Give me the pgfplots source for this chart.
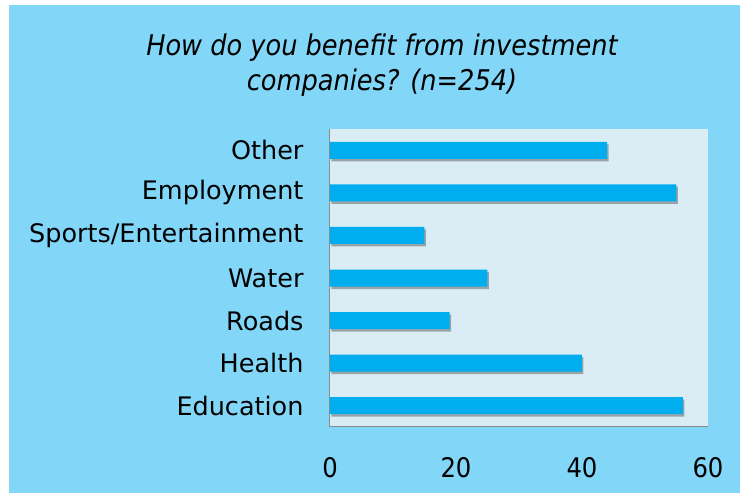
\documentclass[border=0pt]{standalone}
\usepackage{fontspec}
\setmainfont{DejaVu Sans}
\newfontfamily\cond{DejaVu Sans Condensed}
\usepackage{pgfplots}
\pgfplotsset{compat=1.18}
\usetikzlibrary{shadows}
\definecolor{bgblue}{RGB}{130,214,248}
\definecolor{plotbg}{RGB}{218,237,244}
\definecolor{barblue}{RGB}{0,174,239}
\definecolor{axgray}{RGB}{140,140,140}
\begin{document}
\begin{tikzpicture}
\useasboundingbox (-330pt,-66pt) rectangle (410pt,427pt);
\fill[white] (-334pt,-70pt) rectangle (414pt,431pt);
\fill[bgblue] (-321pt,-70pt) rectangle (414pt,422pt);
\begin{axis}[
  at={(0pt,0pt)}, anchor=south west,
  scale only axis, width=378pt, height=298pt,
  xbar, bar width=17pt,
  xmin=0, xmax=60, ymin=-0.5, ymax=6.5,
  xtick={0,20,40,60},
  ytick={0,...,6},
  yticklabels={Education,Health,Roads,Water,Sports/Entertainment,Employment,Other},
  axis x line*=bottom, axis y line*=left,
  axis line style={draw=axgray, line width=1pt, -},
  major tick length=0pt,
  axis background/.style={fill=plotbg},
  /pgf/number format/assume math mode=true,
  xticklabel style={font=\cond\fontsize{27}{31}\selectfont, yshift=-27pt},
  yticklabel style={font=\fontsize{25.5}{29}\selectfont, xshift=-23pt},
]
\addplot[fill=barblue, draw=none, drop shadow={shadow xshift=1.5pt, shadow yshift=-2.5pt, opacity=0.45, fill=black!70}] coordinates {(56,0) (40,1) (19,2) (25,3) (15,4) (55,5) (44,6)};
\end{axis}
\node[font=\cond\itshape\fontsize{28.5}{34.5}\selectfont, align=center] at (52pt,362pt) {How do you benefit from investment\\companies? (n=254)};
\end{tikzpicture}
\end{document}
